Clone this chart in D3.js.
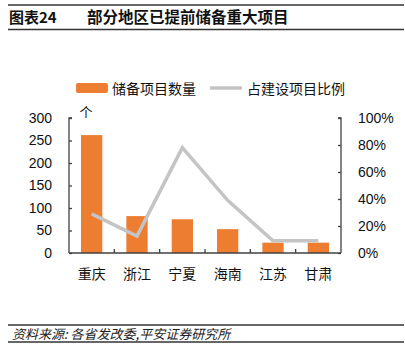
<!DOCTYPE html>
<html><head><meta charset="utf-8">
<script src="https://cdn.jsdelivr.net/npm/d3@7"></script>
<style>
body{margin:0;background:#fff;}
svg{display:block;font-family:"Liberation Sans","Noto Sans CJK SC",sans-serif;}
</style></head>
<body><svg id="c" width="405" height="358"></svg>
<script>
const categories = ["重庆","浙江","宁夏","海南","江苏","甘肃"];
const projectCount = [262, 82, 75, 53, 23, 23];
const shareRatio = [0.29, 0.125, 0.78, 0.39, 0.09, 0.09];
const leftTicks = [0, 50, 100, 150, 200, 250, 300];
const rightTicks = [0, 0.2, 0.4, 0.6, 0.8, 1.0];
const seriesNames = ["储备项目数量", "占建设项目比例"];
const titleNum = "图表24";
const titleText = "部分地区已提前储备重大项目";
const unitLabel = "个";
const sourceText = "资料来源: 各省发改委,平安证券研究所";

const svg = d3.select("#c");
const cjk = '"Noto Sans CJK SC",sans-serif';
const orange = "#ED7D31", grey = "#C4C4C4", axisCol = "#404040";

// header lines
svg.append("line").attr("x1",8).attr("x2",404).attr("y1",5).attr("y2",5).attr("stroke","#333").attr("stroke-width",1.3);
svg.append("line").attr("x1",8).attr("x2",404).attr("y1",29.5).attr("y2",29.5).attr("stroke","#333").attr("stroke-width",1.5);
svg.append("text").attr("x",9).attr("y",23).attr("font-size",15).attr("font-weight","bold")
  .attr("font-family",cjk).attr("fill","#111").text(titleNum);
svg.append("text").attr("x",87).attr("y",23).attr("font-size",15.5).attr("font-weight","bold")
  .attr("font-family",cjk).attr("fill","#111").text(titleText);

// footer
svg.append("line").attr("x1",8).attr("x2",404).attr("y1",325).attr("y2",325).attr("stroke","#333").attr("stroke-width",1.3);
svg.append("line").attr("x1",8).attr("x2",404).attr("y1",342).attr("y2",342).attr("stroke","#333").attr("stroke-width",1.5);
svg.append("text").attr("x",12).attr("y",339).attr("font-size",13).attr("font-style","italic")
  .attr("font-family",cjk).attr("fill","#222").text(sourceText);

// scales
const x0 = 69, x1 = 341, yTop = 118, yBot = 253;
const x = d3.scaleBand().domain(categories).range([x0, x1]).paddingInner(0.53).paddingOuter(0.265);
const xb = d3.scaleBand().domain(categories).range([x0, x1]);
const yL = d3.scaleLinear().domain([0,300]).range([yBot, yTop]);
const yR = d3.scaleLinear().domain([0,1]).range([yBot, yTop]);

// bars
svg.append("g").selectAll("rect").data(categories).join("rect")
  .attr("x", d => x(d)).attr("width", x.bandwidth())
  .attr("y", (d,i) => yL(projectCount[i])).attr("height", (d,i) => yBot - yL(projectCount[i]))
  .attr("fill", orange);

// line
const line = d3.line().x(d => xb(d.c) + xb.bandwidth()/2).y(d => yR(d.v));
svg.append("path").datum(categories.map((c,i)=>({c, v: shareRatio[i]})))
  .attr("d", line).attr("fill","none").attr("stroke",grey).attr("stroke-width",3.5).attr("stroke-linejoin","miter");

// left axis
const gL = svg.append("g").attr("transform",`translate(${x0},0)`)
  .call(d3.axisLeft(yL).tickValues(leftTicks).tickSize(-3).tickPadding(17));
gL.select(".domain").attr("stroke",axisCol).attr("stroke-width",1.3).attr("d",`M3,${yTop}H0V${yBot}`);
gL.selectAll(".tick line").attr("stroke",axisCol).attr("stroke-width",1.3);
gL.selectAll(".tick text").attr("font-size",14).attr("fill","#111").attr("font-family","Liberation Sans, Arial, sans-serif");

// right axis
const gR = svg.append("g").attr("transform",`translate(${x1},0)`)
  .call(d3.axisRight(yR).tickValues(rightTicks).tickSize(-3).tickPadding(17).tickFormat(d3.format(".0%")));
gR.select(".domain").attr("stroke",axisCol).attr("stroke-width",1.3).attr("d",`M-3,${yTop}H0V${yBot}`);
gR.selectAll(".tick line").attr("stroke",axisCol).attr("stroke-width",1.3);
gR.selectAll(".tick text").attr("font-size",14).attr("fill","#111").attr("font-family","Liberation Sans, Arial, sans-serif");

// bottom axis
const gB = svg.append("g").attr("transform",`translate(0,${yBot})`)
  .call(d3.axisBottom(xb).tickSize(0).tickPadding(13));
gB.select(".domain").attr("stroke",axisCol).attr("stroke-width",1.5).attr("d",`M${x0},0H${x1}`);
gB.selectAll(".tick text").attr("font-size",14).attr("fill","#111").attr("font-family",cjk).attr("dy","0.9em");
// boundary ticks between categories (pointing up)
svg.append("g").selectAll("line").data(categories.slice(1)).join("line")
  .attr("x1", d => xb(d)).attr("x2", d => xb(d)).attr("y1", yBot).attr("y2", yBot-4)
  .attr("stroke",axisCol).attr("stroke-width",1.3);

// unit label
svg.append("text").attr("x",86).attr("y",117).attr("text-anchor","middle").attr("font-size",13)
  .attr("font-family",cjk).attr("fill","#111").text(unitLabel);

// legend
const lg = svg.append("g");
lg.append("rect").attr("x",76).attr("y",83).attr("width",32).attr("height",10).attr("rx",2).attr("fill",orange);
lg.append("text").attr("x",112).attr("y",93.5).attr("font-size",14).attr("font-family",cjk).attr("fill","#111").text(seriesNames[0]);
lg.append("line").attr("x1",210).attr("x2",242).attr("y1",88).attr("y2",88).attr("stroke",grey).attr("stroke-width",3.5);
lg.append("text").attr("x",247).attr("y",93.5).attr("font-size",14).attr("font-family",cjk).attr("fill","#111").text(seriesNames[1]);
</script></body></html>
